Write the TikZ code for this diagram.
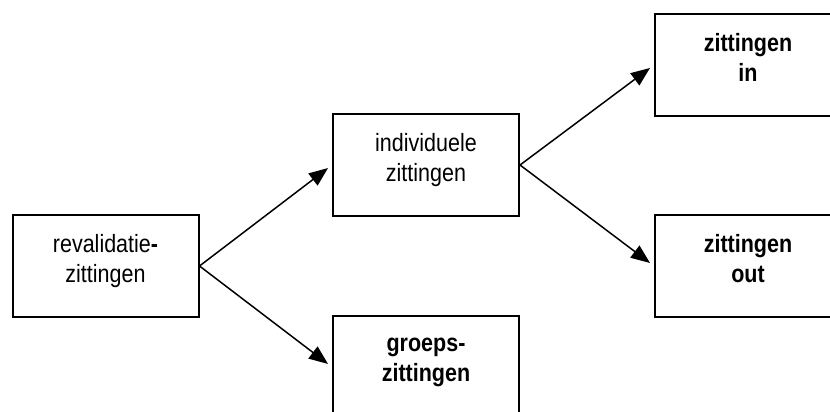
\documentclass[tikz,border=0pt]{standalone}
\usepackage{fontspec}
\setmainfont[FakeStretch=0.86]{Liberation Sans}
\usetikzlibrary{arrows.meta}

\begin{document}
\begin{tikzpicture}[
    x=1pt, y=-1pt,
    box/.style={draw, line width=2pt, rectangle, minimum width=186pt, minimum height=102pt, inner sep=0pt, text depth=15pt, align=center, font=\fontsize{25}{30}\selectfont},
    bold/.style={font=\fontsize{25}{30}\selectfont\bfseries},
    link/.style={line width=1.5pt, -{Triangle[length=19pt,width=15pt]}, shorten >=5pt}
]
    \useasboundingbox (0,0) rectangle (830,412);
    \clip (0,0) rectangle (830,412);

    % Sessions and their split
    \node[box] (rev) at (105.5,266) {revalidatie\textbf{-}\\zittingen};
    \node[box] (indiv) at (426,165) {individuele\\zittingen};
    \node[box, bold] (groep) at (426,367) {groeps-\\zittingen};

    % Individual sessions: in and out
    \node[box, bold] (in) at (748,65) {zittingen\\in};
    \node[box, bold] (out) at (748,266) {zittingen\\out};

    % Arrows
    \draw[link] (rev.east) -- (indiv.west);
    \draw[link] (rev.east) -- (groep.west);
    \draw[link] (indiv.east) -- (in.west);
    \draw[link] (indiv.east) -- (out.west);

\end{tikzpicture}
\end{document}
